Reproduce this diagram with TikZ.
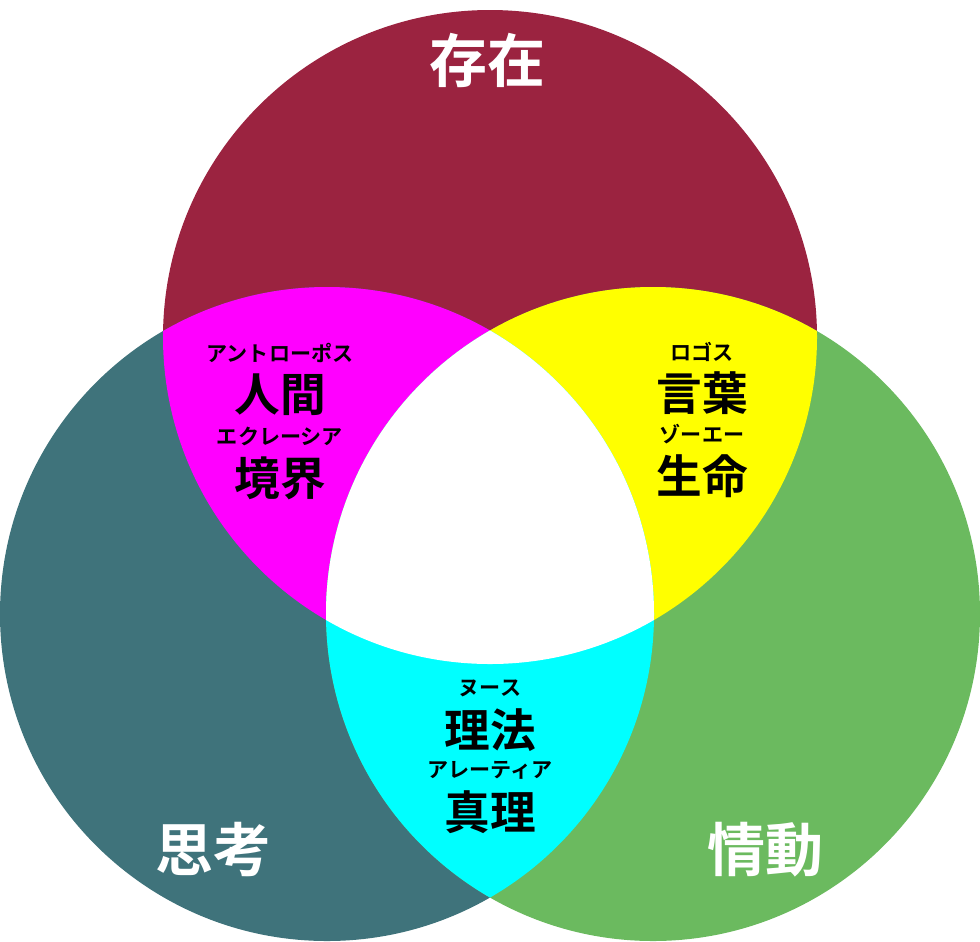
\documentclass[tikz,border=0pt]{standalone}
\usepackage{fontspec}
\newfontfamily\jp{Noto Sans CJK JP}[BoldFont={Noto Sans CJK JP Bold}]
\definecolor{sonzai}{HTML}{9B2340}
\definecolor{shikou}{HTML}{3F737B}
\definecolor{joudou}{HTML}{6BBA5F}
\definecolor{lensM}{HTML}{FF00FF}
\definecolor{lensY}{HTML}{FFFF00}
\definecolor{lensC}{HTML}{00FFFF}
\tikzset{
  big/.style={font=\jp\bfseries\fontsize{33}{33}\selectfont, text=white},
  kanji/.style={font=\jp\bfseries\fontsize{26}{26}\selectfont},
  kana/.style={font=\jp\bfseries\fontsize{12}{12}\selectfont},
}
\begin{document}
\begin{tikzpicture}[x=0.02cm,y=-0.02cm]
  % Paramètres des cercles
  \def\r{327}
  \useasboundingbox (0,0) rectangle (980,941);
  % Dessin des trois cercles
  \fill[sonzai] (490,337) circle (\r);
  \fill[shikou] (327,614) circle (\r);
  \fill[joudou] (653,614) circle (\r);
  % Intersections deux à deux
  \begin{scope}
    \clip (490,337) circle (\r);
    \fill[lensM] (327,614) circle (\r);
    \fill[lensY] (653,614) circle (\r);
  \end{scope}
  \begin{scope}
    \clip (327,614) circle (\r);
    \fill[lensC] (653,614) circle (\r);
    \clip (653,614) circle (\r);
    \fill[white] (490,337) circle (\r);
  \end{scope}
  % Textes
  \node[big] (sonzai) at (487,60) {存在};
  \node[big] (shikou) at (213,850) {思考};
  \node[big] (joudou) at (765,850) {情動};
  \node[kana] (anthropos) at (280,353) {アントローポス};
  \node[kanji] (ningen) at (280,395) {人間};
  \node[kana] (ekklesia) at (280,436) {エクレーシア};
  \node[kanji] (kyoukai) at (280,478) {境界};
  \node[kana] (logos) at (702,352) {ロゴス};
  \node[kanji] (kotoba) at (702,393) {言葉};
  \node[kana] (zoe) at (702,434) {ゾーエー};
  \node[kanji] (seimei) at (702,476) {生命};
  \node[kana] (nous) at (490,688) {ヌース};
  \node[kanji] (rihou) at (490,730) {理法};
  \node[kana] (aletheia) at (490,770) {アレーティア};
  \node[kanji] (shinri) at (490,812) {真理};
\end{tikzpicture}
\end{document}
